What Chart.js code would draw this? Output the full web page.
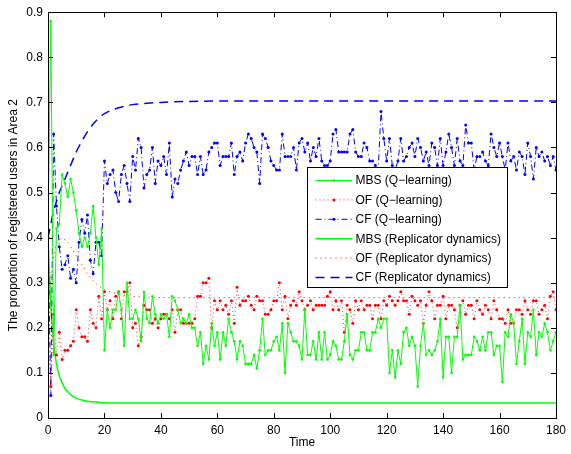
<!DOCTYPE html>
<html>
<head>
<meta charset="utf-8">
<script src="https://cdn.jsdelivr.net/npm/chart.js@4.4.0/dist/chart.umd.min.js"></script>
<style>
  html, body { margin: 0; padding: 0; background: #fff; }
  #wrap { width: 571px; height: 454px; }
</style>
</head>
<body>
<div id="wrap"><canvas id="line-chart" width="571" height="454"></canvas></div>
<script>
// DATI ----------------------------------------
var qMBS = [
  0.40, 0.88, 0.14, 0.42, 0.43, 0.54, 0.52, 0.49, 0.53, 0.50,
  0.46, 0.41, 0.38, 0.40, 0.38, 0.41, 0.47, 0.40, 0.34, 0.42,
  0.15, 0.24, 0.20, 0.24, 0.24, 0.28, 0.24, 0.16, 0.30, 0.22,
  0.22, 0.24, 0.22, 0.17, 0.28, 0.22, 0.21, 0.27, 0.23, 0.21,
  0.23, 0.22, 0.23, 0.18, 0.27, 0.26, 0.24, 0.21, 0.22, 0.21,
  0.23, 0.20, 0.20, 0.16, 0.19, 0.12, 0.16, 0.13, 0.21, 0.16,
  0.19, 0.13, 0.19, 0.16, 0.22, 0.19, 0.17, 0.13, 0.17, 0.16,
  0.12, 0.12, 0.12, 0.14, 0.11, 0.15, 0.22, 0.14, 0.15, 0.15,
  0.17, 0.18, 0.15, 0.21, 0.10, 0.21, 0.19, 0.17, 0.17, 0.16,
  0.13, 0.24, 0.14, 0.14, 0.17, 0.13, 0.19, 0.13, 0.19, 0.13,
  0.14, 0.17, 0.16, 0.13, 0.13, 0.17, 0.23, 0.14, 0.13, 0.15,
  0.15, 0.19, 0.19, 0.15, 0.15, 0.19, 0.19, 0.22, 0.20, 0.22,
  0.22, 0.10, 0.15, 0.09, 0.15, 0.12, 0.19, 0.20, 0.16, 0.18,
  0.16, 0.07, 0.16, 0.21, 0.14, 0.15, 0.14, 0.15, 0.17, 0.22,
  0.09, 0.18, 0.18, 0.10, 0.18, 0.18, 0.25, 0.13, 0.14, 0.14,
  0.14, 0.18, 0.17, 0.15, 0.18, 0.15, 0.19, 0.19, 0.14, 0.16,
  0.16, 0.08, 0.19, 0.18, 0.23, 0.21, 0.12, 0.17, 0.22, 0.12,
  0.19, 0.18, 0.24, 0.14, 0.19, 0.18, 0.21, 0.19, 0.15, 0.17,
  0.19
];
var qOF = [
  0.20, 0.07, 0.23, 0.14, 0.19, 0.13, 0.15, 0.15, 0.16, 0.17,
  0.24, 0.20, 0.18, 0.18, 0.17, 0.24, 0.21, 0.20, 0.27, 0.22,
  0.28, 0.24, 0.26, 0.22, 0.27, 0.28, 0.22, 0.28, 0.28, 0.30,
  0.20, 0.21, 0.16, 0.18, 0.25, 0.24, 0.24, 0.21, 0.22, 0.20,
  0.22, 0.23, 0.23, 0.22, 0.24, 0.19, 0.24, 0.24, 0.21, 0.21,
  0.21, 0.21, 0.22, 0.27, 0.27, 0.30, 0.30, 0.31, 0.20, 0.26,
  0.24, 0.26, 0.24, 0.25, 0.23, 0.26, 0.21, 0.29, 0.25, 0.26,
  0.26, 0.27, 0.25, 0.24, 0.27, 0.26, 0.26, 0.23, 0.23, 0.24,
  0.26, 0.26, 0.30, 0.24, 0.27, 0.22, 0.25, 0.26, 0.25, 0.28,
  0.26, 0.24, 0.25, 0.26, 0.24, 0.25, 0.25, 0.25, 0.25, 0.27,
  0.28, 0.24, 0.26, 0.24, 0.26, 0.19, 0.25, 0.24, 0.21, 0.26,
  0.24, 0.26, 0.24, 0.25, 0.25, 0.22, 0.25, 0.25, 0.22, 0.26,
  0.25, 0.27, 0.26, 0.25, 0.26, 0.28, 0.26, 0.26, 0.23, 0.27,
  0.26, 0.25, 0.26, 0.21, 0.25, 0.28, 0.26, 0.22, 0.25, 0.25,
  0.27, 0.22, 0.25, 0.25, 0.24, 0.20, 0.25, 0.26, 0.23, 0.25,
  0.25, 0.22, 0.26, 0.24, 0.23, 0.25, 0.24, 0.22, 0.26, 0.24,
  0.22, 0.22, 0.21, 0.24, 0.21, 0.21, 0.24, 0.24, 0.23, 0.26,
  0.24, 0.23, 0.26, 0.26, 0.23, 0.24, 0.25, 0.22, 0.27, 0.28,
  0.24
];
var qCF = [
  0.40, 0.05, 0.63, 0.47, 0.38, 0.33, 0.34, 0.36, 0.31, 0.33,
  0.30, 0.39, 0.44, 0.41, 0.45, 0.35, 0.32, 0.39, 0.39, 0.36,
  0.57, 0.52, 0.54, 0.55, 0.50, 0.48, 0.54, 0.56, 0.52, 0.48,
  0.58, 0.55, 0.62, 0.60, 0.51, 0.54, 0.55, 0.60, 0.52, 0.57,
  0.56, 0.58, 0.54, 0.61, 0.49, 0.53, 0.52, 0.55, 0.57, 0.59,
  0.56, 0.58, 0.58, 0.54, 0.58, 0.54, 0.55, 0.59, 0.60, 0.61,
  0.61, 0.56, 0.58, 0.58, 0.58, 0.61, 0.54, 0.58, 0.59, 0.57,
  0.61, 0.63, 0.62, 0.60, 0.59, 0.52, 0.63, 0.62, 0.60, 0.57,
  0.56, 0.55, 0.55, 0.63, 0.58, 0.58, 0.58, 0.60, 0.55, 0.61,
  0.62, 0.59, 0.61, 0.57, 0.60, 0.58, 0.62, 0.57, 0.56, 0.56,
  0.57, 0.63, 0.64, 0.59, 0.59, 0.59, 0.59, 0.63, 0.64, 0.59,
  0.58, 0.58, 0.61, 0.60, 0.57, 0.57, 0.56, 0.55, 0.68, 0.62,
  0.57, 0.62, 0.56, 0.55, 0.57, 0.62, 0.57, 0.58, 0.60, 0.61,
  0.58, 0.62, 0.60, 0.57, 0.59, 0.56, 0.61, 0.60, 0.56, 0.62,
  0.56, 0.59, 0.63, 0.60, 0.56, 0.62, 0.57, 0.56, 0.65, 0.61,
  0.61, 0.55, 0.58, 0.58, 0.59, 0.57, 0.56, 0.63, 0.60, 0.58,
  0.61, 0.58, 0.55, 0.61, 0.57, 0.58, 0.55, 0.59, 0.58, 0.54,
  0.61, 0.58, 0.53, 0.60, 0.58, 0.59, 0.57, 0.58, 0.56, 0.58,
  0.55
];

// replicator dynamics (curve lisce)
var rdTime = [0, 1, 2, 3, 4, 5, 6, 7, 8, 10, 12, 14, 16, 18, 20, 25, 30, 35, 40, 50, 60, 80, 100, 140, 180];
var rdMBS = [0.40, 0.25, 0.165, 0.12, 0.094, 0.078, 0.066, 0.058, 0.052, 0.044, 0.040, 0.037, 0.036, 0.035, 0.034, 0.033, 0.033, 0.033, 0.033, 0.033, 0.033, 0.033, 0.033, 0.033, 0.033];
var rdOF = [0.20, 0.31, 0.36, 0.385, 0.395, 0.398, 0.395, 0.39, 0.38, 0.36, 0.34, 0.32, 0.305, 0.293, 0.285, 0.275, 0.27, 0.268, 0.267, 0.267, 0.267, 0.267, 0.267, 0.267, 0.267];
var rdCF = [0.40, 0.43, 0.46, 0.48, 0.50, 0.515, 0.53, 0.545, 0.56, 0.59, 0.614, 0.635, 0.652, 0.665, 0.675, 0.688, 0.695, 0.698, 0.70, 0.702, 0.703, 0.703, 0.703, 0.703, 0.703];

var xTicks = [0, 20, 40, 60, 80, 100, 120, 140, 160, 180];
var yTicks = [0, 0.1, 0.2, 0.3, 0.4, 0.5, 0.6, 0.7, 0.8, 0.9];
var labels = ['MBS (Q\u2212learning)', 'OF (Q\u2212learning)', 'CF (Q\u2212learning)',
              'MBS (Replicator dynamics)', 'OF (Replicator dynamics)', 'CF (Replicator dynamics)'];

function serie(arr) {
  return arr.map(function(v, i){ return {x: i, y: v}; });
}
function curva(t, arr) {
  return arr.map(function(v, i){ return {x: t[i], y: v}; });
}

var GREEN = 'rgb(0,255,0)';
var RED = 'rgb(255,0,0)';
var BLUE = 'rgb(0,0,255)';

Chart.defaults.font.family = '"Liberation Sans", Arial, sans-serif';
Chart.defaults.font.size = 12;
Chart.defaults.color = '#000';

// riquadro + tacche interne stile matlab
var boxTicks = {
  id: 'boxTicks',
  afterDatasetsDraw: function(chart) {
    var ctx = chart.ctx, a = chart.chartArea;
    var xs = chart.scales.x, ys = chart.scales.y;
    ctx.save();
    ctx.strokeStyle = '#000';
    ctx.lineWidth = 1;
    ctx.beginPath();
    xTicks.forEach(function(t){
      var px = Math.round(xs.getPixelForValue(t)) + 0.5;
      ctx.moveTo(px, a.bottom); ctx.lineTo(px, a.bottom - 5);
      ctx.moveTo(px, a.top); ctx.lineTo(px, a.top + 5);
    });
    yTicks.forEach(function(t){
      var py = Math.round(ys.getPixelForValue(t)) + 0.5;
      ctx.moveTo(a.left, py); ctx.lineTo(a.left + 5, py);
      ctx.moveTo(a.right, py); ctx.lineTo(a.right - 5, py);
    });
    ctx.stroke();
    ctx.strokeRect(Math.round(a.left) + 0.5, Math.round(a.top) + 0.5,
                   Math.round(a.right - a.left), Math.round(a.bottom - a.top));
    ctx.restore();
  }
};

// legenda dentro il grafico
var legendaBox = {
  id: 'legendaBox',
  afterDraw: function(chart) {
    var ctx = chart.ctx;
    var x0 = 307.5, y0 = 167.5, w = 200, h = 120, row = 19.4;
    ctx.save();
    ctx.fillStyle = '#fff';
    ctx.fillRect(x0, y0, w, h);
    ctx.strokeStyle = '#000';
    ctx.lineWidth = 1;
    ctx.strokeRect(x0, y0, w, h);
    chart.data.datasets.forEach(function(ds, i){
      var cy = y0 + 13 + i * row;
      ctx.strokeStyle = ds.borderColor;
      ctx.lineWidth = ds.borderWidth;
      ctx.setLineDash(ds.borderDash || []);
      ctx.beginPath();
      ctx.moveTo(x0 + 8, cy);
      ctx.lineTo(x0 + 45, cy);
      ctx.stroke();
      ctx.setLineDash([]);
      if (ds.pointRadius > 0) {
        ctx.fillStyle = ds.borderColor;
        ctx.beginPath();
        ctx.arc(x0 + 26.5, cy, ds.pointRadius, 0, Math.PI * 2);
        ctx.fill();
      }
      ctx.fillStyle = '#000';
      ctx.font = '12px "Liberation Sans", Arial, sans-serif';
      ctx.textBaseline = 'middle';
      ctx.fillText(ds.label, x0 + 48, cy + 0.5);
    });
    ctx.restore();
  }
};

var ctx = document.getElementById('line-chart');
var chart = new Chart(ctx, {
  type: 'line',
  data: {
    datasets: [{
      label: labels[0], data: serie(qMBS),
      borderColor: GREEN, backgroundColor: GREEN, borderWidth: 1,
      pointRadius: 1.3, pointBorderWidth: 0, pointBackgroundColor: GREEN
    }, {
      label: labels[1], data: serie(qOF),
      borderColor: RED, backgroundColor: RED, borderWidth: 0.8, borderDash: [1, 3],
      pointRadius: 1.5, pointBorderWidth: 0, pointBackgroundColor: RED
    }, {
      label: labels[2], data: serie(qCF),
      borderColor: BLUE, backgroundColor: BLUE, borderWidth: 1, borderDash: [6, 3, 1, 3],
      pointRadius: 1.5, pointBorderWidth: 0, pointBackgroundColor: BLUE
    }, {
      label: labels[3], data: curva(rdTime, rdMBS),
      borderColor: GREEN, backgroundColor: GREEN, borderWidth: 1.5,
      pointRadius: 0, cubicInterpolationMode: 'monotone'
    }, {
      label: labels[4], data: curva(rdTime, rdOF),
      borderColor: RED, backgroundColor: RED, borderWidth: 1, borderDash: [1, 4],
      pointRadius: 0, cubicInterpolationMode: 'monotone'
    }, {
      label: labels[5], data: curva(rdTime, rdCF),
      borderColor: BLUE, backgroundColor: BLUE, borderWidth: 1.5, borderDash: [9, 6],
      pointRadius: 0, cubicInterpolationMode: 'monotone'
    }]
  },
  options: {
    responsive: false,
    animation: false,
    layout: { padding: { top: 9, right: 10, left: 0, bottom: 0 } },
    plugins: {
      legend: { display: false },
      tooltip: { enabled: false }
    },
    scales: {
      x: {
        type: 'linear', min: 0, max: 180,
        afterFit: function(s){ s.height = 36; },
        afterBuildTicks: function(s){ s.ticks = xTicks.map(function(v){ return {value: v}; }); },
        grid: { display: false, drawTicks: false },
        border: { display: false },
        ticks: { padding: 5, maxRotation: 0 },
        title: { display: true, text: 'Time', padding: { top: 0, bottom: 4 } }
      },
      y: {
        min: 0, max: 0.9,
        afterFit: function(s){ s.width = 48; },
        afterBuildTicks: function(s){ s.ticks = yTicks.map(function(v){ return {value: v}; }); },
        grid: { display: false, drawTicks: false },
        border: { display: false },
        ticks: {
          padding: 5,
          callback: function(v){ return v === 0 ? '0' : v.toFixed(1); }
        },
        title: { display: true, text: 'The proportion of registered users in Area 2', padding: { top: 6, bottom: 0 } }
      }
    }
  },
  plugins: [boxTicks, legendaBox]
});
</script>
</body>
</html>
